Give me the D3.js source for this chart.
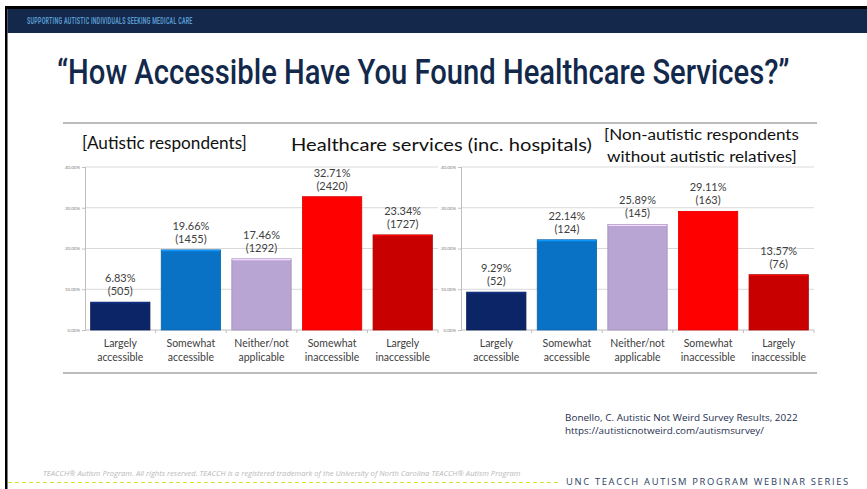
<!DOCTYPE html>
<html>
<head>
<meta charset="utf-8">
<script src="https://cdn.jsdelivr.net/npm/d3@7"></script>
<style>
  html, body { margin: 0; padding: 0; background: #fff; }
  svg { display: block; }
</style>
</head>
<body>
<svg id="chart" width="867" height="489"></svg>
<script>
// ---- Data ----
const categories = ["Largely accessible", "Somewhat accessible", "Neither/not applicable", "Somewhat inaccessible", "Largely inaccessible"];
const autisticPct = [6.83, 19.66, 17.46, 32.71, 23.34];
const autisticN = [505, 1455, 1292, 2420, 1727];
const nonAutisticPct = [9.29, 22.14, 25.89, 29.11, 13.57];
const nonAutisticN = [52, 124, 145, 163, 76];
const yTicks = [0, 0.1, 0.2, 0.3, 0.4];
const barColors = ["#0c2566", "#0a72c4", "#b9a5d3", "#ff0000", "#c80000"];

const svg = d3.select("#chart");
const navy = "#13294b";

// helper: place text at (x,y) and horizontally scale it to a target width
function fitText(txt, x, y, width, attrs) {
  const g = svg.append("g");
  const t = g.append("text").attr("x", 0).attr("y", 0);
  Object.entries(attrs).forEach(([k, v]) => t.attr(k, v));
  t.text(txt);
  const w = t.node().getComputedTextLength();
  const s = w > 0 ? width / w : 1;
  g.attr("transform", `translate(${x},${y}) scale(${s},1)`);
  return t;
}

// ---- Slide frame ----
svg.append("rect").attr("x", 5).attr("y", 6).attr("width", 862).attr("height", 3).attr("fill", "#000");
svg.append("rect").attr("x", 5).attr("y", 6).attr("width", 2.5).attr("height", 483).attr("fill", "#000");
svg.append("rect").attr("x", 7.5).attr("y", 9).attr("width", 860).attr("height", 24).attr("fill", "#13284a");
fitText("SUPPORTING AUTISTIC INDIVIDUALS SEEKING MEDICAL CARE", 27, 23.5, 166, {
  "font-family": "Roboto, sans-serif", "font-weight": 700, "font-size": 8.5, "fill": "#5a9bd0", "letter-spacing": 0.4
});

fitText("\u201CHow Accessible Have You Found Healthcare Services?\u201D", 57, 84, 733, {
  "font-family": "Roboto, sans-serif", "font-weight": 500, "font-size": 36, "fill": navy
});

// ---- Chart image area ----
svg.append("line").attr("x1", 63).attr("x2", 817).attr("y1", 123).attr("y2", 123).attr("stroke", "#a6a6a6").attr("stroke-width", 1.5);
svg.append("line").attr("x1", 63).attr("x2", 817).attr("y1", 373).attr("y2", 373).attr("stroke", "#a6a6a6").attr("stroke-width", 1.5);

const chartFont = "Lato, 'Open Sans', sans-serif";
const titleAttrs = s => ({ "font-family": chartFont, "font-size": s, "fill": "#111" });
fitText("[Autistic respondents]", 82, 149, 165, titleAttrs(17));
fitText("Healthcare services (inc. hospitals)", 291, 151, 301, titleAttrs(18));
fitText("[Non-autistic respondents", 604, 140, 195, titleAttrs(16));
fitText("without autistic relatives]", 607, 162, 190, titleAttrs(16));

const y = d3.scaleLinear().domain([0, 0.4]).range([330, 167]);

function drawPanel(x0, x1, pct, counts) {
  const x = d3.scaleBand().domain(categories).range([x0, x1]).paddingInner(0.16).paddingOuter(0.08);
  const g = svg.append("g");

  // gridlines
  g.selectAll(".grid").data(yTicks.slice(1)).join("line")
    .attr("x1", x0).attr("x2", x1)
    .attr("y1", d => y(d)).attr("y2", d => y(d))
    .attr("stroke", "#d9d9d9").attr("stroke-width", 1);

  // y axis
  const yAxis = d3.axisLeft(y).tickValues(yTicks).tickFormat(d3.format(".2%")).tickSize(3).tickPadding(2);
  const ya = g.append("g").attr("transform", `translate(${x0},0)`).call(yAxis);
  ya.select(".domain").attr("stroke", "#bfbfbf");
  ya.selectAll(".tick line").attr("stroke", "#bfbfbf");
  ya.selectAll(".tick text").attr("font-family", chartFont).attr("font-size", 4.5).attr("fill", "#7f7f7f");

  // x axis baseline with boundary ticks
  g.append("line").attr("x1", x0).attr("x2", x1).attr("y1", y(0)).attr("y2", y(0)).attr("stroke", "#bfbfbf");
  const step = x.step();
  const gap = x.paddingInner() * step;
  g.selectAll(".xt").data(categories).join("line")
    .attr("x1", c => x(c) + x.bandwidth() + gap / 2)
    .attr("x2", c => x(c) + x.bandwidth() + gap / 2)
    .attr("y1", y(0)).attr("y2", y(0) + 3).attr("stroke", "#bfbfbf");

  // bars
  const data = categories.map((c, i) => ({ c, v: pct[i] / 100, n: counts[i], p: pct[i], col: barColors[i] }));
  g.selectAll(".bar").data(data).join("rect")
    .attr("x", d => x(d.c)).attr("width", x.bandwidth())
    .attr("y", d => y(d.v)).attr("height", d => y(0) - y(d.v))
    .attr("fill", d => d.col)
    .attr("stroke", d => d3.color(d.col).darker(0.4)).attr("stroke-width", 0.8);
  g.selectAll(".bartop").data(data).join("line")
    .attr("x1", d => x(d.c) + 0.5).attr("x2", d => x(d.c) + x.bandwidth() - 0.5)
    .attr("y1", d => y(d.v) + 0.8).attr("y2", d => y(d.v) + 0.8)
    .attr("stroke", d => d3.color(d.col).brighter(0.8)).attr("stroke-width", 1.2);

  // value labels
  g.selectAll(".vl1").data(data).join("text")
    .attr("x", d => x(d.c) + x.bandwidth() / 2).attr("y", d => y(d.v) - 20)
    .attr("text-anchor", "middle").attr("font-family", chartFont).attr("font-size", 11).attr("fill", "#404040")
    .text(d => d.p.toFixed(2) + "%");
  g.selectAll(".vl2").data(data).join("text")
    .attr("x", d => x(d.c) + x.bandwidth() / 2).attr("y", d => y(d.v) - 7)
    .attr("text-anchor", "middle").attr("font-family", chartFont).attr("font-size", 11).attr("fill", "#404040")
    .text(d => "(" + d.n + ")");

  // category labels
  const cl = g.selectAll(".cl").data(categories).join("text")
    .attr("text-anchor", "middle").attr("font-family", chartFont).attr("font-size", 10.5).attr("fill", "#404040");
  cl.each(function(c) {
    const parts = c.split(" ");
    const t = d3.select(this);
    const cx = x(c) + x.bandwidth() / 2;
    t.append("tspan").attr("x", cx).attr("y", 346.5).text(parts[0]);
    t.append("tspan").attr("x", cx).attr("y", 360.5).text(parts.slice(1).join(" "));
  });
}

drawPanel(85, 438, autisticPct, autisticN);
drawPanel(461, 814, nonAutisticPct, nonAutisticN);

// ---- Citation ----
const citeFont = "'Open Sans', 'Noto Sans', sans-serif";
fitText("Bonello, C. Autistic Not Weird Survey Results, 2022", 565, 421, 233, { "font-family": citeFont, "font-size": 9, "fill": "#1f2f4f" });
fitText("https://autisticnotweird.com/autismsurvey/", 565, 434, 199, { "font-family": citeFont, "font-size": 9, "fill": "#1f2f4f" });

// ---- Footer ----
fitText("TEACCH\u00AE Autism Program. All rights reserved. TEACCH is a registered trademark of the University of North Carolina TEACCH\u00AE Autism Program",
  43, 476, 478, { "font-family": citeFont, "font-style": "italic", "font-size": 6.5, "fill": "#b8b8b8" });
svg.append("line").attr("x1", 8).attr("x2", 561).attr("y1", 482.5).attr("y2", 482.5)
  .attr("stroke", "#d6df2a").attr("stroke-width", 1.2).attr("stroke-dasharray", "4,3");
fitText("UNC TEACCH AUTISM PROGRAM WEBINAR SERIES", 566, 485, 284, {
  "font-family": citeFont, "font-size": 9, "fill": "#2c3e63", "letter-spacing": 1.6
});
</script>
</body>
</html>
